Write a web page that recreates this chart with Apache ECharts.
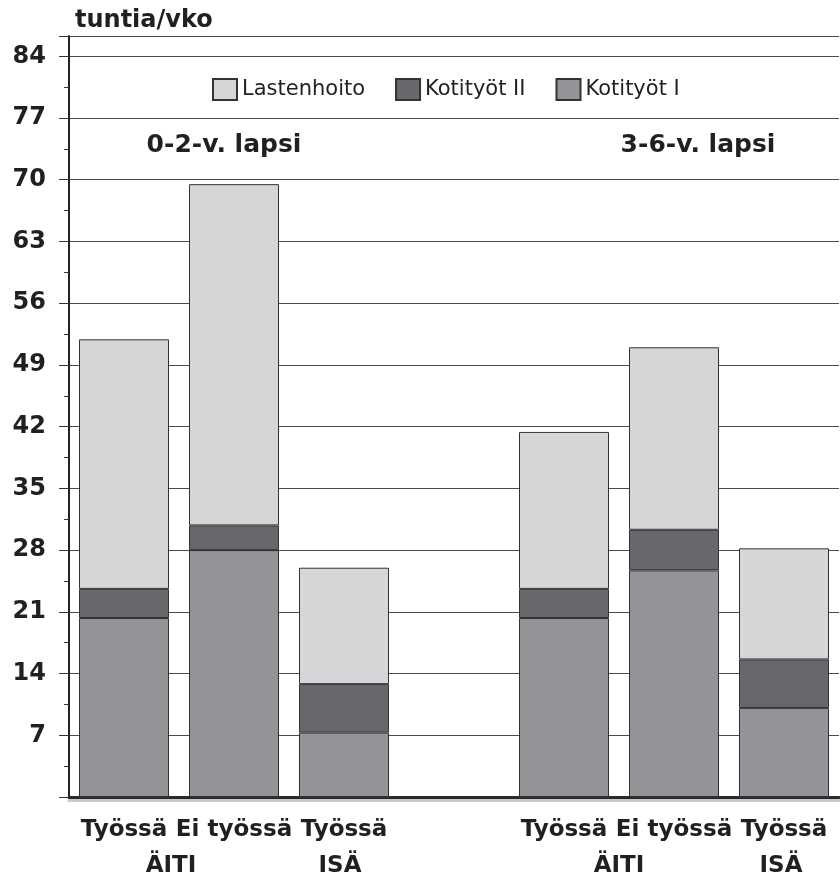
<!DOCTYPE html>
<html>
<head>
<meta charset="utf-8">
<script src="https://cdn.jsdelivr.net/npm/echarts@6/dist/echarts.min.js"></script>
<style>
  html, body { margin: 0; padding: 0; background: #fff; }
  #chart { width: 840px; height: 874px; }
</style>
</head>
<body>
<div id="chart"></div>
<script>
// luokat (tyhjä väli ryhmien välissä)
const categories = ['Työssä', 'Ei työssä', 'Työssä', '', 'Työssä', 'Ei työssä', 'Työssä']
const seriesNames = ['Lastenhoito', 'Kotityöt II', 'Kotityöt I']
// tuntia/vko, luettu kuvasta
const kotitytI = [20.3, 28.0, 7.3, null, 20.3, 25.7, 10.1]
const kotitytII = [3.3, 2.8, 5.5, null, 3.3, 4.6, 5.5]
const lastenhoito = [28.3, 38.7, 13.2, null, 17.8, 20.7, 12.6]
const yTicks = [0, 7, 14, 21, 28, 35, 42, 49, 56, 63, 70, 77, 84]
const groupLabels = ['0-2-v. lapsi', '3-6-v. lapsi']
const parentLabels = ['ÄITI', 'ISÄ', 'ÄITI', 'ISÄ']

const colors = { 'Lastenhoito': '#d5d6d8', 'Kotityöt II': '#67686c', 'Kotityöt I': '#939498' }
const bold = 'DejaVu Sans'

const chart = echarts.init(document.getElementById('chart'))

function barSeries(name, data) {
  return {
    name: name,
    type: 'bar',
    stack: 'total',
    barWidth: 90,
    data: data,
    itemStyle: { color: colors[name], borderColor: '#333', borderWidth: 1 }
  }
}

const option = {
  animation: false,
  grid: { left: 69, right: 1, top: 36, bottom: 77 },
  legend: {
    data: seriesNames,
    icon: 'rect',
    left: 207,
    top: 73,
    itemWidth: 24,
    itemHeight: 21,
    itemGap: 30,
    textStyle: { fontFamily: 'DejaVu Sans', fontSize: 21, color: '#231f20' }
  },
  xAxis: {
    type: 'category',
    data: categories,
    axisTick: { show: false },
    axisLine: {
      lineStyle: { color: '#2b2b2b', width: 3, shadowColor: '#c8c8c8', shadowOffsetY: 3 }
    },
    axisLabel: {
      interval: 0,
      margin: 22,
      fontFamily: bold,
      fontWeight: 'bold',
      fontSize: 23,
      color: '#231f20'
    }
  },
  yAxis: {
    type: 'value',
    min: 0,
    max: 86.3,
    interval: 7,
    axisLine: { show: true, lineStyle: { color: '#222', width: 2 } },
    axisTick: { show: true, length: 10, lineStyle: { color: '#333' } },
    minorTick: { show: true, splitNumber: 2, length: 5, lineStyle: { color: '#333' } },
    splitLine: { lineStyle: { color: '#4a4a4a', width: 1 } },
    axisLabel: {
      margin: 23,
      fontFamily: bold,
      fontWeight: 'bold',
      fontSize: 24,
      color: '#231f20',
      formatter: function (v) {
        return yTicks.indexOf(v) > 0 ? String(v) : ''
      }
    }
  },
  series: [
    barSeries('Kotityöt I', kotitytI),
    barSeries('Kotityöt II', kotitytII),
    barSeries('Lastenhoito', lastenhoito)
  ]
}
chart.setOption(option)

// tekstit: yksikkö, ryhmäotsikot ja ÄITI/ISÄ rivi
const px = i => chart.convertToPixel({ xAxisIndex: 0 }, i)
const labelY = chart.convertToPixel({ yAxisIndex: 0 }, 0) + 69
const groupY = chart.convertToPixel({ yAxisIndex: 0 }, 73.9)
const parentX = [(px(0) + px(1)) / 2 - 8, px(2) - 4, (px(4) + px(5)) / 2, px(6) - 3]
const groupX = [px(1) - 10, px(5) + 24]

const textStyle = { fontFamily: bold, fontWeight: 'bold', fill: '#231f20' }
const graphic = [
  { type: 'text', left: 75, top: 9, style: Object.assign({ text: 'tuntia/vko', fontSize: 24 }, textStyle) }
]
groupLabels.forEach((t, i) => {
  graphic.push({
    type: 'text', x: groupX[i], y: groupY,
    style: Object.assign({ text: t, fontSize: 25, align: 'center', verticalAlign: 'middle' }, textStyle)
  })
})
parentLabels.forEach((t, i) => {
  graphic.push({
    type: 'text', x: parentX[i], y: labelY,
    style: Object.assign({ text: t, fontSize: 23, align: 'center', verticalAlign: 'middle' }, textStyle)
  })
})
chart.setOption({ graphic: graphic })
</script>
</body>
</html>
